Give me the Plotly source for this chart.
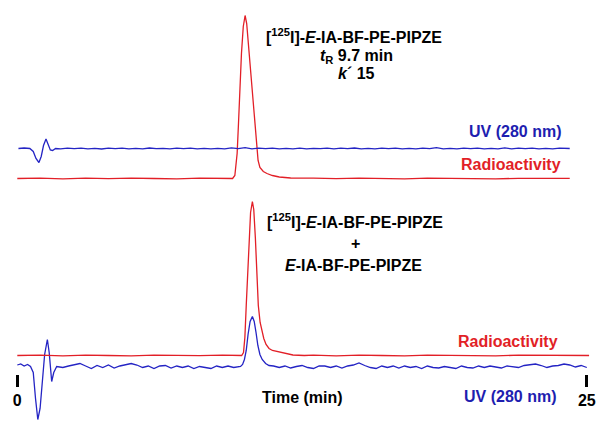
import plotly.graph_objects as go

# ─── data (signal above each trace's own baseline, arbitrary units) ───────────

# upper chromatogram: [125I]-E-IA-BF-PE-PIPZE alone
TOP_UV_T = [0.05, 0.3, 0.55, 0.70, 0.82, 0.95, 1.05, 1.15, 1.26, 1.36, 1.45, 1.55, 1.68,
            1.9, 2.2, 2.5, 2.8, 3.1, 3.4, 3.7, 4.0, 4.3, 4.6,
            4.9, 5.2, 5.5, 5.8, 6.1, 6.4, 6.7, 7.0, 7.3, 7.6,
            7.9, 8.2, 8.5, 8.8, 9.1, 9.4, 9.7, 10.0, 10.3, 10.6,
            10.9, 11.2, 11.5, 11.8, 12.1, 12.4, 12.7, 13.0, 13.3, 13.6,
            13.9, 14.2, 14.5, 14.8, 15.1, 15.4, 15.7, 16.0, 16.3, 16.6,
            16.9, 17.2, 17.5, 17.8, 18.1, 18.4, 18.7, 19.0, 19.3, 19.6,
            19.9, 20.2, 20.5, 20.8, 21.1, 21.4, 21.7, 22.0, 22.3, 22.6,
            22.9, 23.2, 23.5, 23.8, 24.25]
TOP_UV_V = [0, 0.5, 0, -3, -10, -14, -8, 3, 9.4, 4, -1.5, -2, 0,
            -0.4, 0.3, -0.2, 0.4, -0.3, 0.2, -0.5, 0.3, -0.2, 0.4,
            -0.4, 0.2, -0.3, 0.5, -0.2, 0.1, -0.4, 0.3, -0.2, 0.4,
            -0.3, 0.2, -0.4, 0.2, -0.3, 0.6, -0.2, 0.8, -0.3, 0.3,
            -0.2, 0.4, -0.4, 0.2, -0.3, 0.3, -0.4, 0.2, -0.2, 0.4,
            -0.3, 0.3, -0.2, 0.5, -0.4, 0.2, -0.3, 0.3, -0.2, 0.4,
            -0.3, 0.2, -0.4, 0.3, -0.2, 0.8, -0.3, 0.2, -0.4, 0.3,
            -0.2, 0.4, -0.3, 0.2, -0.3, 0.6, -0.4, 0.3, -0.2, 0.4,
            -0.3, 0.2, -0.3, 0.4, 0.0]

TOP_RAD_T = [0.0, 1.0, 2.0, 3.0, 4.0, 5.0, 6.0, 7.0, 8.0, 9.0,
             9.45, 9.55, 9.65, 9.71, 9.77, 9.84, 9.92, 10.0, 10.07, 10.15,
             10.24, 10.33, 10.41, 10.49, 10.57, 10.65, 10.80, 10.96, 11.2, 11.5,
             12.0, 13.0, 14.0, 15.0, 16.0, 17.0, 18.0, 19.0, 20.0, 21.0,
             22.0, 23.0, 24.25]
TOP_RAD_V = [0, 0.4, -0.3, 0.3, -0.2, 0.4, 0, -0.3, 0.3, 0,
             0, 3, 25, 55, 88, 125, 152, 163, 155, 132,
             103, 81, 55, 33, 18, 11, 7, 5, 3, 1.5,
             0.5, 0.3, -0.2, 0.3, 0, -0.3, 0.3, 0, 0.2, -0.3,
             0.2, 0, 0.2]

# lower chromatogram: co-injection with E-IA-BF-PE-PIPZE
BOT_UV_T = [0.0, 0.15, 0.3, 0.45, 0.58, 0.70, 0.80, 0.90, 1.0, 1.1,
            1.2, 1.32, 1.40, 1.51, 1.6, 1.73,
            2.0, 2.25, 2.5, 2.75, 3.0, 3.25, 3.5, 3.75, 4.0, 4.25,
            4.5, 4.75, 5.0, 5.25, 5.5, 5.75, 6.0, 6.25, 6.5, 6.75,
            7.0, 7.25, 7.5, 7.75, 8.0, 8.25, 8.5, 8.75, 9.0, 9.25,
            9.5,
            9.80, 9.89, 9.97, 10.05, 10.13, 10.22, 10.32, 10.40, 10.48, 10.56,
            10.65, 10.75, 10.9, 11.05,
            11.25, 11.5, 11.75, 12.0, 12.25, 12.5, 12.75, 13.0, 13.25, 13.5,
            13.75, 14.0, 14.25, 14.5, 14.75, 15.0, 15.25, 15.5, 15.75, 16.0,
            16.25, 16.5, 16.75, 17.0, 17.25, 17.5, 17.75, 18.0, 18.25, 18.5,
            18.75, 19.0, 19.25, 19.5, 19.75, 20.0, 20.25, 20.5, 20.75, 21.0,
            21.25, 21.5, 21.75, 22.0, 22.25, 22.5, 22.75, 23.0, 23.25, 23.5,
            23.75, 24.0, 24.25, 24.5, 24.75, 25.0]
BOT_UV_V = [1.5, 2.5, 0.5, 2.0, 0.0, -6, -32, -53, -42, -12,
            12, 27, 14, -15, -6, 0,
            -1.0, 0.5, 2.0, 3.0, 0.5, -2.0, 1.0, -1.0, 1.5, -1.5,
            0.5, 2.0, 3.0, 1.5, -1.0, 0.5, -2.0, 0.5, 1.0, -1.5,
            0.5, -1.0, 0.5, -2.0, 0.0, -1.0, -2.0, 0.5, -1.0, 0.5,
            -1.0,
            0, 2, 7, 16, 32, 45, 50, 45, 34, 21,
            12, 7, 3, 1,
            0.5, -1.0, 0.5, -1.5, 0.0, 1.0, -1.0, -2.0, 0.5, 0.5,
            -1.0, 0.5, -1.5, 0.5, 1.5, 3.5, 1.0, -1.0, -2.0, 0.5,
            -1.0, 0.5, -1.5, 0.5, -1.0, 0.0, -2.0, 0.5, -1.0, -1.5,
            0.0, -1.0, -2.0, 0.5, -1.0, -1.5, 0.5, -1.0, 0.5, -0.5,
            -1.5, 0.5, 0.0, -1.0, 1.0, 2.0, 2.5, 1.0, -1.0, 0.5,
            1.0, 2.5, 1.5, -0.5, 1.0, -1.0]

BOT_RAD_T = [0.0, 1.0, 2.0, 3.0, 4.0, 5.0, 6.0, 7.0, 8.0, 9.0,
             9.85, 9.93, 9.99, 10.05, 10.11, 10.17, 10.24, 10.32, 10.38, 10.45,
             10.51, 10.58, 10.66, 10.74, 10.82, 10.92, 11.05, 11.2, 11.5, 11.8,
             12.1, 12.6, 13.0, 14.0, 15.0, 16.0, 17.0, 18.0, 19.0, 20.0,
             21.0, 22.0, 23.0, 24.0, 25.1]
BOT_RAD_V = [0, 0.3, -0.3, 0.3, 0, -0.3, 0.3, 0, -0.2, 0.3,
             0, 3, 18, 50, 78, 115, 143, 154, 146, 118,
             77, 50, 33, 23, 17, 11, 7, 5, 3.5, 2,
             0.5, 0, 0.3, -0.3, 0.3, 0, -0.3, 0.3, 0, 0.4,
             -0.3, 0.3, 0, 0.3, 0]

AXIS_TICKS = [0, 25]

# ─── layout constants (pixel geometry of the 605x429 page) ────────────────────
W, H = 605, 429
RED = "#e21f27"
BLUE = "#2424c4"
BLUE_TXT = "#1e1eb0"
FONT = "Liberation Sans, Arial, sans-serif"

# trace baselines, in page pixels counted up from the bottom
TOP_UV_BASE, TOP_RAD_BASE = 280.5, 250.5
BOT_UV_BASE, BOT_RAD_BASE = 62.5, 73.5

PX_PER_MIN = 22.78
X0_PX = 17.3


def shift(vals, base):
    return [v + base for v in vals]


def paper(x, y):
    return x / W, 1 - y / H


fig = go.Figure()
line_w = 1.3
fig.add_trace(go.Scatter(x=TOP_RAD_T, y=shift(TOP_RAD_V, TOP_RAD_BASE), mode="lines",
                         line=dict(color=RED, width=line_w)))
fig.add_trace(go.Scatter(x=TOP_UV_T, y=shift(TOP_UV_V, TOP_UV_BASE), mode="lines",
                         line=dict(color=BLUE, width=line_w)))
fig.add_trace(go.Scatter(x=BOT_UV_T, y=shift(BOT_UV_V, BOT_UV_BASE), mode="lines",
                         line=dict(color=BLUE, width=line_w)))
fig.add_trace(go.Scatter(x=BOT_RAD_T, y=shift(BOT_RAD_V, BOT_RAD_BASE), mode="lines",
                         line=dict(color=RED, width=line_w)))

# ─── text ─────────────────────────────────────────────────────────────────────
labels = [
    ("[<sup>125</sup>I]-<i>E</i>-IA-BF-PE-PIPZE", 354, 36, "center", "black"),
    ("<i>t</i><sub>R</sub> 9.7 min", 356, 56, "center", "black"),
    ("<i>k</i>´ 15", 356, 74, "center", "black"),
    ("UV (280 nm)", 563, 131, "right", BLUE_TXT),
    ("Radioactivity", 563, 165, "right", RED),
    ("[<sup>125</sup>I]-<i>E</i>-IA-BF-PE-PIPZE", 355, 221, "center", "black"),
    ("+", 355, 243, "center", "black"),
    ("<i>E</i>-IA-BF-PE-PIPZE", 353, 265, "center", "black"),
    ("Radioactivity", 560, 341, "right", RED),
    ("UV (280 nm)", 558, 396, "right", BLUE_TXT),
    ("Time (min)", 302, 397, "center", "black"),
]
for text, x, y, anchor, color in labels:
    px, py = paper(x, y)
    fig.add_annotation(text=text, x=px, y=py, xref="paper", yref="paper",
                       xanchor=anchor, yanchor="middle", showarrow=False,
                       font=dict(family=FONT, size=16, color=color, weight="bold"))

x_lo = -X0_PX / PX_PER_MIN
x_hi = x_lo + W / PX_PER_MIN

fig.update_layout(
    width=W, height=H,
    margin=dict(l=0, r=0, t=0, b=0),
    paper_bgcolor="white", plot_bgcolor="white",
    showlegend=False,
    xaxis=dict(range=[x_lo, x_hi], anchor="free", position=1 - 374 / H,
               showgrid=False, zeroline=False, showline=False,
               ticks="outside", ticklen=12, tickwidth=3, tickcolor="black",
               tickvals=AXIS_TICKS,
               tickfont=dict(family=FONT, size=16, color="black", weight="bold")),
    yaxis=dict(range=[0, H], visible=False, showgrid=False, zeroline=False),
)

# the page body has a default 8px margin; drop it so the figure fills the window
fig.write_html("out.html", config={"displayModeBar": False},
               post_script="document.body.style.margin = '0';")
